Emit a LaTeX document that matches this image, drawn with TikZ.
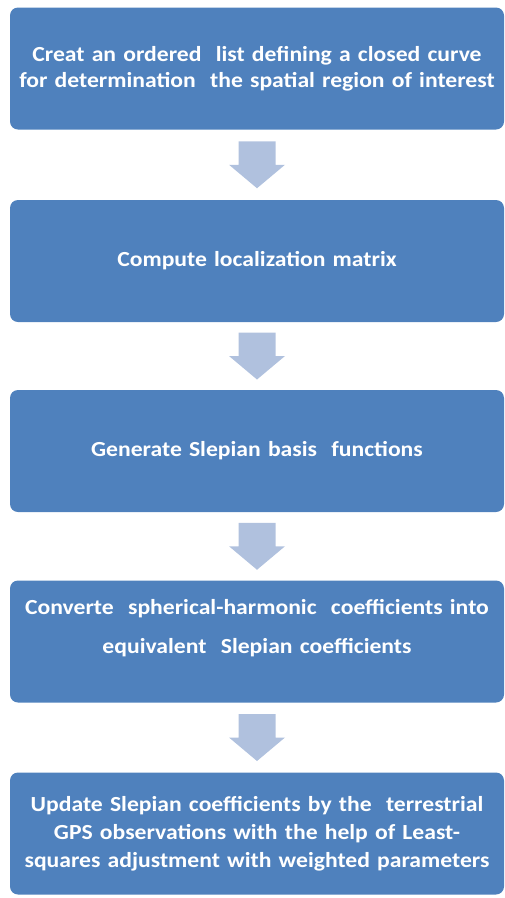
\documentclass[tikz,border=0pt]{standalone}
\usepackage{fontspec}
\setmainfont{Carlito}[FakeStretch=1.1]
\usetikzlibrary{calc}

\definecolor{boxblue}{HTML}{4F81BD}
\definecolor{arrowblue}{HTML}{B0C1DE}

\tikzset{
  stepbox/.style={fill=boxblue, rounded corners=8pt, minimum width=494pt,
    minimum height=122pt, text width=492pt, align=center, inner sep=0pt,
    text=white, font=\bfseries\fontsize{21.5}{26}\selectfont},
  arrowfill/.style={fill=arrowblue}
}

% wide block arrow centred in the gap between two boxes
\newcommand\flowarrow[2]{%
  \coordinate (mid#1#2) at ($(#1.south)!0.5!(#2.north)$);
  \fill[arrowfill] ($(mid#1#2)+(-18.5,-23.5)$) -- ++(37,0) -- ++(0,23.5)
    -- ++(9.5,0) -- ++(-28,23.5) -- ++(-28,-23.5) -- ++(9.5,0) -- cycle;
}

\begin{document}
\begin{tikzpicture}[x=1pt,y=-1pt]
  \useasboundingbox (0,0) rectangle (505,898);

  \node[stepbox] (b1) at (257,68.5)
    {Creat an ordered\ \ list defining a closed curve\\
     for determination\ \ the spatial region of interest};
  \node[stepbox] (b2) at (257,261) {Compute\ localization matrix};
  \node[stepbox] (b3) at (257,451) {Generate\ Slepian basis\ \ functions};
  \node[stepbox, font=\bfseries\fontsize{21.5}{39}\selectfont] (b4) at (257,641.5)
    {Converte\ \ spherical-harmonic\ \ coefficients into\\
     equivalent\ \ Slepian coefficients\\[-8pt]\mbox{}};
  \node[stepbox, font=\bfseries\fontsize{21.5}{28}\selectfont] (b5) at (257,833.5)
    {Update Slepian coefficients by the\ \ terrestrial\\
     GPS observations with the help of Least-\\
     squares adjustment with weighted parameters};

  \flowarrow{b1}{b2}
  \flowarrow{b2}{b3}
  \flowarrow{b3}{b4}
  \flowarrow{b4}{b5}
\end{tikzpicture}
\end{document}
